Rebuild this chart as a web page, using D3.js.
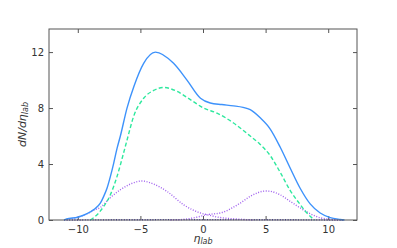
<!DOCTYPE html>
<html>
<head>
<meta charset="utf-8">
<script src="https://cdn.jsdelivr.net/npm/d3@7"></script>
<style>
	body { margin: 0; background: #fff; }
	svg text { font-family: "DejaVu Sans", sans-serif; fill: #333; }
</style>
</head>
<body>
<div id="graph"></div>
<script>
// values: eta_lab and dN/deta_lab
var totalEta = [-11.1, -10.9, -10, -9.26, -8.73, -8.2, -7.93, -7.66, -7.4, -7.13,
	-6.87, -6.6, -6.07, -5.5, -4.74, -3.8, -2.35, -1.28, -0.2, 0.58, 1.5, 2.44,
	3.2, 3.77, 4.57, 5.37, 6.17, 6.97, 7.77, 8.56, 9.36, 10.16, 10.96, 11.3];
var totalVal = [0, 0.07, 0.2, 0.45, 0.74, 1.2, 1.69, 2.29, 3.1, 4.07,
	5.1, 6.0, 8.0, 9.6, 11.2, 12.0, 11.2, 10.0, 8.7, 8.36, 8.25, 8.16,
	8.05, 7.88, 7.3, 6.5, 5.2, 3.7, 2.25, 1.15, 0.5, 0.17, 0.04, 0];

var coreEta = [-9, -8.46, -7.93, -7.4, -6.87, -6.34, -6.07, -5.54, -4.74, -3.94,
	-3.14, -2.07, -1.01, 0.05, 1.12, 2.44, 3.77, 4.57, 5.37, 6.17, 6.97, 7.77,
	8.3, 8.9];
var coreVal = [0, 0.38, 0.97, 1.8, 3.1, 4.8, 5.7, 7.4, 8.7, 9.26,
	9.47, 9.19, 8.6, 8.0, 7.64, 6.93, 6.0, 5.4, 4.6, 3.4, 2.1, 1.1,
	0.5, 0];

var leftEta = [-11.1, -10, -9.26, -8.73, -8.2, -7.4, -6.6, -5.8, -4.87, -3.94,
	-2.87, -1.55, -0.2, 0.32, 1.2, 2.7, 4.0];
var leftVal = [0, 0.2, 0.45, 0.7, 0.9, 1.6, 2.16, 2.57, 2.79, 2.57,
	2.04, 1.09, 0.5, 0.38, 0.2, 0.07, 0];

var rightEta = [-2.6, -1.5, -0.5, 0.32, 1.38, 2.98, 3.77, 5.0, 5.37, 6.17, 6.97,
	7.77, 8.56, 9.36, 10.5, 11.2];
var rightVal = [0, 0.05, 0.2, 0.38, 0.5, 1.21, 1.69, 2.07, 2.05, 1.8, 1.33,
	0.86, 0.45, 0.16, 0.03, 0];

var baseEta = [-11.1, -5, 0, 5, 11.2];
var baseVal = [0, 0.02, 0.03, 0.02, 0];

var xTicks = [-10, -5, 0, 5, 10];
var yTicks = [0, 4, 8, 12];

var width = 397, height = 248;
var padL = 49, padR = 357, padT = 29, padB = 220;

var xScale = d3.scaleLinear().domain([-12.3, 12.3]).range([padL, padR]);
var yScale = d3.scaleLinear().domain([0, 13.65]).range([padB, padT]);

var svg = d3.select("#graph").append("svg")
	.attr("width", width)
	.attr("height", height);

function drawAxis(axis, tx, ty, labels) {
	var g = svg.append("g")
		.attr("transform", "translate(" + tx + "," + ty + ")")
		.call(axis);
	g.select(".domain").remove();
	g.selectAll(".tick line").attr("stroke", "#555");
	g.selectAll(".tick text")
		.attr("font-size", 10)
		.attr("fill", "#333")
		.style("display", labels ? null : "none");
	return g;
}

drawAxis(d3.axisBottom(xScale).tickValues(xTicks).tickSize(-4).tickPadding(6)
	.tickFormat(d3.format("d")), 0, padB, true);
drawAxis(d3.axisTop(xScale).tickValues(xTicks).tickSize(-4), 0, padT, false);
drawAxis(d3.axisLeft(yScale).tickValues(yTicks).tickSize(-4).tickPadding(5),
	padL, 0, true);
drawAxis(d3.axisRight(yScale).tickValues(yTicks).tickSize(-4), padR, 0, false);

function zip(xs, ys) {
	return xs.map(function (x, i) { return [x, ys[i]]; });
}

var line = d3.line()
	.x(function (d) { return xScale(d[0]); })
	.y(function (d) { return yScale(d[1]); })
	.curve(d3.curveMonotoneX);

var series = [
	{ data: zip(baseEta, baseVal), color: "#3b2fb8", dash: "1,1.6", w: 1.4 },
	{ data: zip(leftEta, leftVal), color: "#a060ee", dash: "1,1.6", w: 1.4 },
	{ data: zip(rightEta, rightVal), color: "#a060ee", dash: "1,1.6", w: 1.4 },
	{ data: zip(coreEta, coreVal), color: "#2ee89e", dash: "4,2.4", w: 1.4 },
	{ data: zip(totalEta, totalVal), color: "#3d92fb", dash: null, w: 1.4 }
];

series.forEach(function (s) {
	svg.append("path")
		.datum(s.data)
		.attr("fill", "none")
		.attr("stroke", s.color)
		.attr("stroke-width", s.w)
		.attr("stroke-dasharray", s.dash)
		.attr("d", line);
});

svg.append("rect")
	.attr("x", padL).attr("y", padT)
	.attr("width", padR - padL).attr("height", padB - padT)
	.attr("fill", "none")
	.attr("stroke", "#555")
	.attr("stroke-width", 1);

// axis labels
var xl = svg.append("text")
	.attr("x", (padL + padR) / 2)
	.attr("y", 242)
	.attr("text-anchor", "middle")
	.attr("font-size", 11)
	.attr("font-style", "italic");
xl.append("tspan").text("η");
xl.append("tspan").attr("font-size", 8).attr("dy", 2).text("lab");

var yl = svg.append("text")
	.attr("transform", "translate(26," + ((padT + padB) / 2) + ") rotate(-90)")
	.attr("text-anchor", "middle")
	.attr("font-size", 11)
	.attr("font-style", "italic");
yl.append("tspan").text("dN/dη");
yl.append("tspan").attr("font-size", 8).attr("dy", 2).text("lab");
</script>
</body>
</html>
